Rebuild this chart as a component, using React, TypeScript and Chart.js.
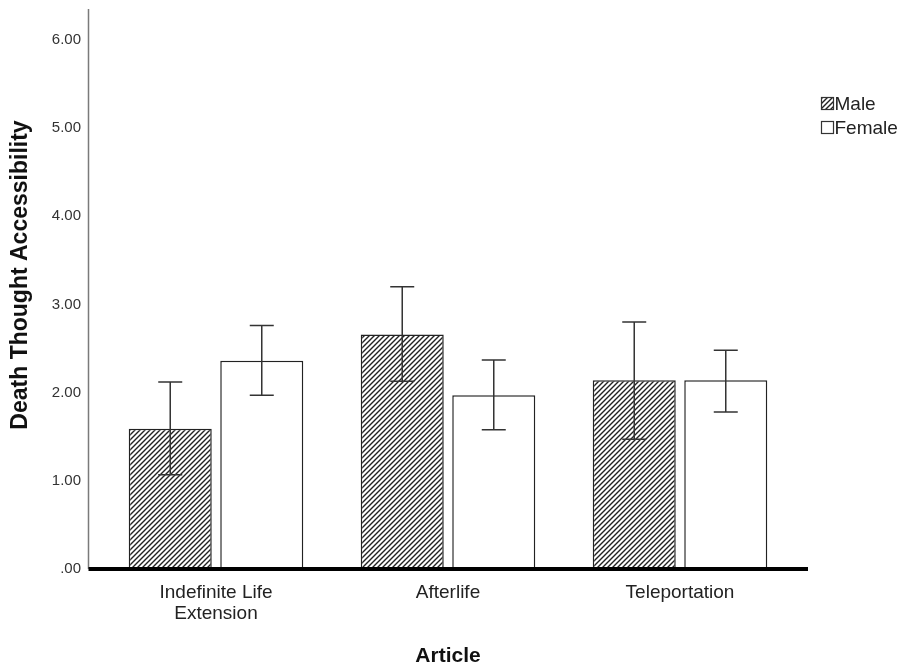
import React, { useEffect, useRef } from "react";
import { Chart, registerables } from "chart.js";

Chart.register(...registerables);

const categories: (string | string[])[] = [["Indefinite Life", "Extension"], "Afterlife", "Teleportation"];
const seriesNames = ["Male", "Female"];
const maleMeans = [1.59, 2.66, 2.14];
const femaleMeans = [2.36, 1.97, 2.14];
const maleLow = [1.07, 2.13, 1.47];
const maleHigh = [2.12, 3.2, 2.8];
const femaleLow = [1.97, 1.58, 1.78];
const femaleHigh = [2.76, 2.37, 2.48];
const yTicks = [0, 1, 2, 3, 4, 5, 6];
const yTitle = "Death Thought Accessibility";

const FONT = "'Liberation Sans', Arial, Helvetica, sans-serif";

function makeHatch(): CanvasPattern | string {
  const c = document.createElement("canvas");
  const s = 5;
  c.width = s;
  c.height = s;
  const g = c.getContext("2d");
  if (!g) return "#888";
  g.fillStyle = "#ffffff";
  g.fillRect(0, 0, s, s);
  g.strokeStyle = "#222";
  g.lineWidth = 1.4;
  g.beginPath();
  g.moveTo(-1, s + 1);
  g.lineTo(s + 1, -1);
  g.moveTo(-1, 1);
  g.lineTo(1, -1);
  g.moveTo(s - 1, s + 1);
  g.lineTo(s + 1, s - 1);
  g.stroke();
  return g.createPattern(c, "repeat") || "#888";
}

export default function App() {
  const ref = useRef<HTMLCanvasElement | null>(null);

  useEffect(() => {
    document.body.style.margin = "0";
    const canvas = ref.current;
    if (!canvas) return;
    const hatch = makeHatch();
    const lows = [maleLow, femaleLow];
    const highs = [maleHigh, femaleHigh];

    const errorBars = {
      id: "errorBars",
      afterDatasetsDraw(chart: any) {
        const ctx = chart.ctx;
        const y = chart.scales.y;
        ctx.save();
        ctx.strokeStyle = "#333";
        ctx.lineWidth = 1.5;
        chart.data.datasets.forEach((_: any, di: number) => {
          const meta = chart.getDatasetMeta(di);
          meta.data.forEach((el: any, j: number) => {
            const x = el.x;
            const yh = y.getPixelForValue(highs[di][j]);
            const yl = y.getPixelForValue(lows[di][j]);
            const cap = 12;
            ctx.beginPath();
            ctx.moveTo(x, yh);
            ctx.lineTo(x, yl);
            ctx.moveTo(x - cap, yh);
            ctx.lineTo(x + cap, yh);
            ctx.moveTo(x - cap, yl);
            ctx.lineTo(x + cap, yl);
            ctx.stroke();
          });
        });
        // axes lines
        const a = chart.chartArea;
        const y0 = y.getPixelForValue(0);
        const axisX = a.left - 11.5;
        ctx.strokeStyle = "#7a7a7a";
        ctx.lineWidth = 1.5;
        ctx.beginPath();
        ctx.moveTo(axisX, a.top);
        ctx.lineTo(axisX, y0);
        ctx.stroke();
        ctx.strokeStyle = "#000";
        ctx.lineWidth = 4;
        ctx.beginPath();
        ctx.moveTo(axisX, y0);
        ctx.lineTo(a.right + 12, y0);
        ctx.stroke();
        // y title
        ctx.save();
        ctx.translate(21, 275);
        ctx.rotate(-Math.PI / 2);
        ctx.font = `bold 23px ${FONT}`;
        ctx.fillStyle = "#111";
        ctx.textAlign = "center";
        ctx.textBaseline = "middle";
        ctx.fillText(yTitle, 0, 0);
        ctx.restore();
        // legend
        const lx = a.right + 25.5;
        const fills = [hatch, "#ffffff"];
        const ly = [97.5, 121.5];
        ctx.font = `19px ${FONT}`;
        ctx.textBaseline = "middle";
        ctx.textAlign = "left";
        seriesNames.forEach((name, i) => {
          ctx.fillStyle = fills[i] as any;
          ctx.fillRect(lx, ly[i], 12, 12);
          ctx.strokeStyle = "#333";
          ctx.lineWidth = 1.2;
          ctx.strokeRect(lx, ly[i], 12, 12);
          ctx.fillStyle = "#222";
          ctx.fillText(name, lx + 13, ly[i] + 7);
        });
        ctx.restore();
      },
    };

    const chart = new Chart(canvas, {
      type: "bar",
      data: {
        labels: categories,
        datasets: [
          {
            label: seriesNames[0],
            data: maleMeans,
            backgroundColor: hatch as any,
            borderColor: "#222",
            borderWidth: 1.5,
            categoryPercentage: 0.789,
            barPercentage: 0.907,
          },
          {
            label: seriesNames[1],
            data: femaleMeans,
            backgroundColor: "#ffffff",
            borderColor: "#222",
            borderWidth: 1.5,
            categoryPercentage: 0.789,
            barPercentage: 0.907,
          },
        ],
      },
      options: {
        animation: false,
        responsive: true,
        maintainAspectRatio: false,
        layout: { padding: { top: 9, right: 105, left: 0, bottom: 0 } },
        plugins: { legend: { display: false }, tooltip: { enabled: false } },
        scales: {
          x: {
            grid: { display: false },
            border: { display: false },
            ticks: {
              color: "#222",
              font: { family: FONT, size: 19, lineHeight: 1.1 },
              padding: 5,
              maxRotation: 0,
              autoSkip: false,
            },
            title: {
              display: true,
              text: "Article",
              color: "#111",
              font: { family: FONT, size: 21, weight: "bold" },
              padding: { top: 0, bottom: 1 },
            },
            afterFit(scale: any) {
              scale.height = 101;
              scale.paddingLeft = 0;
              scale.paddingRight = 0;
            },
          },
          y: {
            min: 0,
            max: 6.35,
            grid: { display: false },
            border: { display: false },
            afterBuildTicks(scale: any) {
              scale.ticks = yTicks.map((v) => ({ value: v }));
            },
            ticks: {
              color: "#333",
              font: { family: FONT, size: 15 },
              padding: 11,
              callback: (v: any) => {
                const s = Number(v).toFixed(2);
                return s.startsWith("0") ? s.slice(1) : s;
              },
            },
            title: { display: false },
            afterFit(scale: any) {
              scale.width = 100;
              scale.paddingTop = 0;
              scale.paddingBottom = 0;
            },
          },
        },
      },
      plugins: [errorBars],
    });
    return () => chart.destroy();
  }, []);

  return (
    <div style={{ position: "relative", width: 901, height: 670 }}>
      <canvas ref={ref} />
    </div>
  );
}
